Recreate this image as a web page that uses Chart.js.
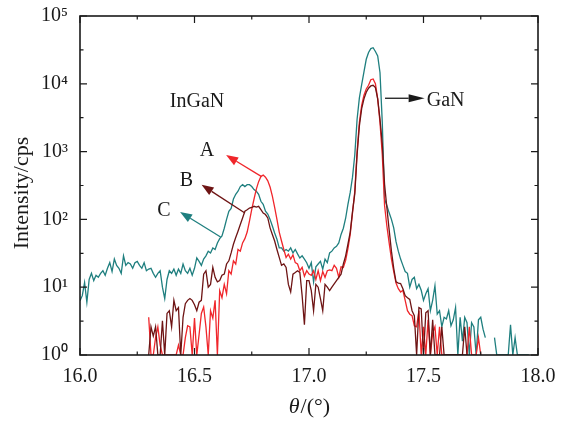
<!DOCTYPE html>
<html>
<head>
<meta charset="utf-8">
<script src="https://cdn.jsdelivr.net/npm/chart.js@4.4.1/dist/chart.umd.min.js"></script>
<style>
  html, body { margin: 0; padding: 0; background: #fff; }
</style>
</head>
<body>
<canvas id="xrdChart" width="571" height="421"></canvas>
<script>
// XRD rocking curves of three InGaN/GaN samples (A, B, C), log intensity

const theta = [
  16.00, 16.01, 16.02, 16.03, 16.04, 16.05, 16.06, 16.07, 16.08, 16.09,
  16.10, 16.11, 16.12, 16.13, 16.14, 16.15, 16.16, 16.17, 16.18, 16.19,
  16.20, 16.21, 16.22, 16.23, 16.24, 16.25, 16.26, 16.27, 16.28, 16.29,
  16.30, 16.31, 16.32, 16.33, 16.34, 16.35, 16.36, 16.37, 16.38, 16.39,
  16.40, 16.41, 16.42, 16.43, 16.44, 16.45, 16.46, 16.47, 16.48, 16.49,
  16.50, 16.51, 16.52, 16.53, 16.54, 16.55, 16.56, 16.57, 16.58, 16.59,
  16.60, 16.61, 16.62, 16.63, 16.64, 16.65, 16.66, 16.67, 16.68, 16.69,
  16.70, 16.71, 16.72, 16.73, 16.74, 16.75, 16.76, 16.77, 16.78, 16.79,
  16.80, 16.81, 16.82, 16.83, 16.84, 16.85, 16.86, 16.87, 16.88, 16.89,
  16.90, 16.91, 16.92, 16.93, 16.94, 16.95, 16.96, 16.97, 16.98, 16.99,
  17.00, 17.01, 17.02, 17.03, 17.04, 17.05, 17.06, 17.07, 17.08, 17.09,
  17.10, 17.11, 17.12, 17.13, 17.14, 17.15, 17.16, 17.17, 17.18, 17.19,
  17.20, 17.21, 17.22, 17.23, 17.24, 17.25, 17.26, 17.27, 17.28, 17.29,
  17.30, 17.31, 17.32, 17.33, 17.34, 17.35, 17.36, 17.37, 17.38, 17.39,
  17.40, 17.41, 17.42, 17.43, 17.44, 17.45, 17.46, 17.47, 17.48, 17.49,
  17.50, 17.51, 17.52, 17.53, 17.54, 17.55, 17.56, 17.57, 17.58, 17.59,
  17.60, 17.61, 17.62, 17.63, 17.64, 17.65, 17.66, 17.67, 17.68, 17.69,
  17.70, 17.71, 17.72, 17.73, 17.74, 17.75, 17.76, 17.77, 17.78, 17.79,
  17.80, 17.81, 17.82, 17.83, 17.84, 17.85, 17.86, 17.87, 17.88, 17.89,
  17.90, 17.91, 17.92, 17.93, 17.94, 17.95, 17.96, 17.97, 17.98, 17.99,
  18.00
];

// sample A (red)
const intensityA = [
  null, null, null, null, null, null, null, null, null, null,
  null, null, null, null, null, null, null, null, null, null,
  null, null, null, null, null, null, null, null, null, null,
  3.6, 0, 0, 1.8, 2.6, 1.4, 0, 0, 0, 0,
  0, 0, 0, 1.4, 0, 0, 1.8, 2.7, 2.6, 0,
  3.5, 0, 2.0, 4.1, 5.1, 2.6, 0, 4.5, 3.5, 6.4,
  0, 8.9, 7, 11, 8, 17.5, 15.6, 24.5, 22, 36,
  34, 45, 52, 65, 94, 140, 200, 280, 360, 430,
  450, 420, 370, 300, 220, 150, 100, 65, 48, 36,
  27.5, 30.7, 26, 30, 23, 22, 17.5, 19.6, 14.5, 17.5,
  15.6, 15, 17.5, 13, 17.5, 12.5, 17, 14, 17.5, 18,
  17.5, 21, 19, 14, 20, 19.6, 25, 37, 60, 125,
  260, 1000, 2700, 4800, 6800, 8400, 9500, 11500, 11800, 10000,
  6000, 2700, 900, 160, 80, 45, 26, 17, 11.5, 9.5,
  8.5, 9, 6.4, 4.5, 4, 3.8, 2.7, 2.6, 4.5, 0,
  2.6, 0, 3.3, 0, 2.1, 2.6, 0, 2.6, 0, 0,
  0, 0, 0, 0, 0, 0, 0, 0, 0, 0,
  2.6, 0, 0, 0, 1.8, 0, null, null, null, null,
  null, null, null, null, null, null, null, null, null, null,
  null, null, null, null, null, null, null, null, null, null,
  null
];

// sample B (dark red)
const intensityB = [
  null, null, null, null, null, null, null, null, null, null,
  null, null, null, null, null, null, null, null, null, null,
  null, null, null, null, null, null, null, null, null, null,
  0, 2.6, 1.9, 2.6, 0, 0, 3.2, 0, 4.1, 4.5,
  2.6, 6.4, 4.5, 5, 0, 3.6, 5.7, 6.4, 6.8, 6.4,
  5.5, 4.5, 6, 6.4, 15.6, 17.5, 10, 11, 19.6, 14,
  12, 12.5, 15, 15.6, 22, 24.5, 32, 43, 54, 67,
  84, 105, 132, 139, 147, 150, 156, 152, 156, 139,
  124, 118, 105, 75, 60, 48, 36, 27.5, 21, 22,
  19.6, 11, 8.5, 15.6, 16.5, 17.5, 16.5, 7.5, 2.8, 12.5,
  12.5, 8.9, 4.5, 11, 10, 6.8, 4.5, 11, 10, 8.9,
  10, 11.2, 12.5, 14, 15.6, 22, 29, 43, 65, 130,
  240, 900, 2400, 4300, 6000, 7500, 8600, 9300, 9500, 8800,
  6000, 3000, 1300, 330, 150, 70, 34, 19, 12, 11.5,
  11.3, 9.5, 7.5, 7, 6.6, 4.5, 3.8, 0, 5, 4.8,
  0, 4.2, 4.5, 0, 3.3, 0, 0, 0, 2.6, 0,
  0, 0, 0, 0, 0, 0, 0, 0, 2.6, 0,
  null, null, null, null, null, null, null, null, null, null,
  null, null, null, null, null, null, null, null, null, null,
  null, null, null, null, null, null, null, null, null, null,
  null
];

// sample C (teal)
const intensityC = [
  6.3, 7.5, 11.7, 6.0, 13, 16, 12.5, 15, 14, 16,
  17.5, 15, 19, 23, 17, 26, 21, 19, 16, 29,
  21, 23, 22, 19, 23, 24, 21, 19, 23, 17.5,
  18.5, 19, 16, 14, 16, 17.5, 10, 6.8, 13, 17.5,
  16, 18.5, 15, 18.5, 16, 22, 17.5, 16, 19, 15,
  19, 27, 24, 21, 26, 29, 34, 32, 38, 36,
  45, 52, 57, 74, 100, 132, 145, 200, 235, 260,
  305, 325, 305, 325, 325, 305, 275, 260, 235, 185,
  167, 132, 120, 100, 80, 63, 51, 38, 38, 34,
  36, 34, 38, 32, 36, 31, 27, 29, 26, 23,
  19, 23, 12, 20, 22, 24, 18.5, 26, 23, 32,
  34, 38, 40, 45, 60, 74, 104, 167, 250, 420,
  900, 3000, 6200, 9700, 15000, 23000, 29000, 33000, 34000, 30000,
  25700, 14700, 2700, 200, 160, 125, 100, 75, 47, 34,
  26, 21, 17, 16, 10, 13, 14, 9.5, 11, 9,
  6.4, 8, 9.5, 4.5, 6.4, 10.5, 4, 4.5, 2.6, 3.6,
  3.4, 4.5, 2.7, 3.3, 5, 0, 3.6, 1.6, 3.6, 3.0,
  0, 3.0, 2.6, 0, 3.3, 3.6, 2.4, 1.8, null, null,
  null, 1.8, 0, 0, 0, 0, 0, 0, 2.8, 0,
  1.8, 0, 0, 0, 0, 0, 0, null, null, null,
  null
];

const xTicks = [16.0, 16.5, 17.0, 17.5, 18.0];
const xMinorTicks = [16.25, 16.75, 17.25, 17.75];
const yTicks = [1, 10, 100, 1000, 10000, 100000];
const yTickLabels = ['10⁰', '10¹', '10²', '10³', '10⁴', '10⁵'];
const yMinorTicks = [3.162, 31.62, 316.2, 3162, 31623];

const SERIF = "'Liberation Serif', 'Times New Roman', serif";
const INK = '#1a1a1a';

// zero counts cannot sit on a log axis: pin them to the bottom of the axis
function points(values) {
    return theta.map((t, i) => ({ x: t, y: values[i] === 0 ? 1 : values[i] }));
}

// draws a line with a filled triangular head at (x2, y2)
function drawArrow(ctx, x1, y1, x2, y2, color, headLen, headHalf) {
    const ang = Math.atan2(y2 - y1, x2 - x1);
    const bx = x2 - headLen * Math.cos(ang);
    const by = y2 - headLen * Math.sin(ang);
    ctx.strokeStyle = color;
    ctx.fillStyle = color;
    ctx.lineWidth = 1.3;
    ctx.beginPath();
    ctx.moveTo(x1, y1);
    ctx.lineTo(bx, by);
    ctx.stroke();
    ctx.beginPath();
    ctx.moveTo(x2, y2);
    ctx.lineTo(bx + headHalf * Math.sin(ang), by - headHalf * Math.cos(ang));
    ctx.lineTo(bx - headHalf * Math.sin(ang), by + headHalf * Math.cos(ang));
    ctx.closePath();
    ctx.fill();
}

// frame with inward ticks, arrows, labels and axis titles
const decorations = {
    id: 'decorations',
    afterDatasetsDraw(chart) {
        const { ctx, chartArea: a, scales } = chart;
        const xs = scales.x, ys = scales.y;
        ctx.save();

        ctx.strokeStyle = INK;
        ctx.lineWidth = 1.2;
        ctx.beginPath();
        const tickX = (v, len) => {
            const px = xs.getPixelForValue(v);
            ctx.moveTo(px, a.bottom); ctx.lineTo(px, a.bottom - len);
            ctx.moveTo(px, a.top); ctx.lineTo(px, a.top + len);
        };
        const tickY = (v, len) => {
            const py = ys.getPixelForValue(v);
            ctx.moveTo(a.left, py); ctx.lineTo(a.left + len, py);
            ctx.moveTo(a.right, py); ctx.lineTo(a.right - len, py);
        };
        xTicks.forEach(v => tickX(v, 7));
        xMinorTicks.forEach(v => tickX(v, 3.5));
        yTicks.forEach(v => tickY(v, 7));
        yMinorTicks.forEach(v => tickY(v, 3.5));
        ctx.stroke();

        ctx.lineWidth = 1.6;
        ctx.strokeRect(a.left, a.top, a.right - a.left, a.bottom - a.top);

        // annotations, anchored in data coordinates
        const P = (x, y) => [xs.getPixelForValue(x), ys.getPixelForValue(y)];
        const arrow = (from, to, color, len, half) =>
            drawArrow(ctx, ...P(...from), ...P(...to), color, len, half);

        arrow([16.793, 428], [16.638, 889], '#f0262b', 12, 4.5);
        arrow([16.720, 124], [16.531, 324], '#6e1414', 12, 4.5);
        arrow([16.614, 55], [16.437, 129], '#1f7f7f', 12, 4.5);
        arrow([17.332, 6120], [17.505, 6120], INK, 16, 4);

        ctx.fillStyle = INK;
        ctx.font = '20px ' + SERIF;
        ctx.textBaseline = 'middle';
        ctx.textAlign = 'center';
        ctx.fillText('A', ...P(16.555, 1045));
        ctx.fillText('B', ...P(16.465, 374));
        ctx.fillText('C', ...P(16.366, 132));
        ctx.fillText('InGaN', ...P(16.511, 5350));
        ctx.textAlign = 'left';
        ctx.fillText('GaN', ...P(17.514, 5530));

        // axis titles
        ctx.font = '22px ' + SERIF;
        ctx.save();
        ctx.translate(22, 193);
        ctx.rotate(-Math.PI / 2);
        ctx.textAlign = 'center';
        ctx.fillText('Intensity/cps', 0, 0);
        ctx.restore();

        const tPart = 'θ', rest = '/(°)';
        ctx.font = 'italic 22px ' + SERIF;
        const w1 = ctx.measureText(tPart).width;
        ctx.font = '22px ' + SERIF;
        const w2 = ctx.measureText(rest).width;
        const cx = (a.left + a.right) / 2;
        const x0 = cx - (w1 + w2) / 2;
        ctx.textAlign = 'left';
        ctx.font = 'italic 22px ' + SERIF;
        ctx.fillText(tPart, x0, 407);
        ctx.font = '22px ' + SERIF;
        ctx.fillText(rest, x0 + w1 + 1, 407);

        ctx.restore();
    }
};

const lineStyle = {
    pointRadius: 0,
    borderWidth: 1.3,
    tension: 0,
    spanGaps: false,
    fill: false
};

new Chart(document.getElementById('xrdChart'), {
    type: 'line',
    data: {
        datasets: [
            { label: 'B', data: points(intensityB), borderColor: '#6e1414', ...lineStyle },
            { label: 'A', data: points(intensityA), borderColor: '#f0262b', ...lineStyle },
            { label: 'C', data: points(intensityC), borderColor: '#1f7f7f', ...lineStyle }
        ]
    },
    options: {
        responsive: false,
        animation: false,
        events: [],
        layout: { padding: { top: 13, right: 33, left: 0, bottom: 0 } },
        plugins: {
            legend: { display: false },
            tooltip: { enabled: false }
        },
        scales: {
            x: {
                type: 'linear',
                min: 16,
                max: 18,
                grid: { display: false },
                border: { display: false },
                afterBuildTicks: s => { s.ticks = xTicks.map(v => ({ value: v })); },
                afterFit: s => { s.height = 66; },
                ticks: {
                    padding: 2,
                    color: INK,
                    maxRotation: 0,
                    font: { family: SERIF, size: 20 },
                    callback: v => v.toFixed(1)
                }
            },
            y: {
                type: 'logarithmic',
                min: 1,
                max: 100000,
                grid: { display: false },
                border: { display: false },
                afterBuildTicks: s => { s.ticks = yTicks.map(v => ({ value: v })); },
                afterFit: s => { s.width = 80; },
                ticks: {
                    padding: 4,
                    color: INK,
                    font: { family: SERIF, size: 20 },
                    callback: (v, i) => yTickLabels[i]
                }
            }
        }
    },
    plugins: [decorations]
});
</script>
</body>
</html>
